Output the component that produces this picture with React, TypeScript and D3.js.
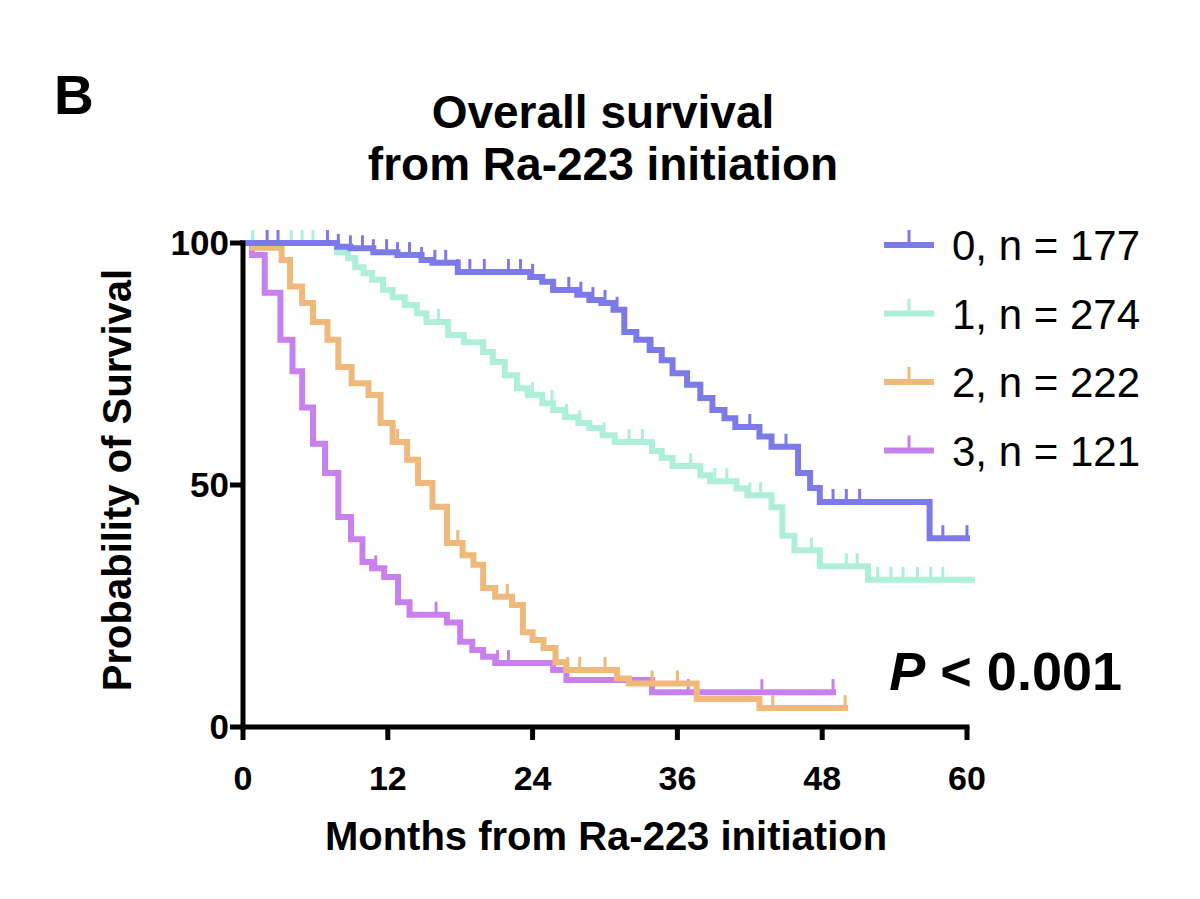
import * as d3 from "d3";

// Kaplan–Meier steps: [month, survival %] after each event
const steps0: [number, number][] = [
  [0, 100], [7.8, 99.2], [8.9, 98.9], [10.8, 98.1], [12.8, 97.5], [14.8, 96.5],
  [15.7, 95.9], [17.8, 94], [23.8, 93], [24.8, 92], [25.7, 90.3], [27.7, 89.3],
  [28.7, 88.2], [29.7, 87.6], [30.7, 86.2], [31.6, 81.6], [32.6, 80], [33.7, 77.9],
  [34.7, 75.8], [35.6, 73.1], [36.8, 70.7], [37.9, 68], [38.9, 65.5], [39.9, 63.8],
  [40.8, 62], [42.8, 60], [43.8, 57.9], [46.0, 52.5], [47.0, 49.4], [47.8, 46.5],
  [56.9, 39],
];
const censor0 = [
  2.0, 2.9, 7.0, 7.9, 8.9, 9.9, 10.8, 11.9, 12.8, 13.8, 14.8, 15.9, 16.8, 17.8,
  18.8, 20.0, 22.0, 23.0, 24.0, 27.0, 28.0, 29.0, 30.0, 31.0, 33.9, 42.0, 45.0,
  48.9, 50.0, 51.1, 58.0, 60.0,
];
const end0 = 60;

const steps1: [number, number][] = [
  [0, 100], [7.8, 98.1], [8.7, 96.9], [9.3, 95], [10.0, 93.8], [10.7, 92.4],
  [11.6, 90.3], [12.4, 88.8], [13.4, 87.2], [14.4, 85.5], [15.2, 83.7], [17.0, 81],
  [18.3, 79.5], [19.9, 77.5], [20.7, 75.4], [21.7, 72.7], [22.7, 70], [23.6, 68.6],
  [24.8, 66.9], [25.7, 65.5], [26.7, 64], [27.8, 62.8], [28.7, 61.8], [29.8, 60.3],
  [30.8, 58.9], [33.9, 57], [34.7, 55.6], [35.6, 53.9], [37.9, 52], [38.7, 50.8],
  [40.9, 49.3], [41.8, 47.9], [43.8, 45.4], [44.7, 39.5], [45.7, 36.5], [47.8, 33.2],
  [51.8, 30.4],
];
const censor1 = [
  0.8, 4.0, 4.9, 5.8, 16.2, 17.1, 24.0, 25.6, 26.8, 27.9, 29.9, 32.0, 33.1, 37.1,
  39.1, 40.1, 42.0, 42.9, 47.1, 50.0, 50.9, 52.6, 53.7, 54.7, 55.9, 57.0, 58.0,
];
const end1 = 60.4;

const steps2: [number, number][] = [
  [0, 100], [0.8, 99], [3.2, 96.5], [3.9, 91], [4.9, 87.6], [5.8, 83.7], [7.0, 80],
  [7.9, 74.4], [9.0, 71], [10.4, 68.6], [11.4, 62.8], [12.4, 58.9], [13.6, 55.2],
  [14.5, 50.4], [15.7, 45.5], [16.9, 38], [18.2, 35.5], [19.1, 33.5], [19.9, 28.7],
  [20.9, 26.9], [22.3, 25.2], [23.2, 19.6], [24.0, 18], [24.9, 16.3], [25.9, 13.4],
  [26.8, 11.8], [31.0, 10], [32.0, 9], [37.6, 5.8], [42.8, 3.9],
];
const censor2 = [12.8, 17.8, 21.9, 26.9, 27.9, 30.0, 33.9, 36.0, 43.9, 49.9];
const end2 = 49.9;

const steps3: [number, number][] = [
  [0, 100], [0.75, 97.5], [1.8, 89.7], [3.1, 80], [4.1, 73.5], [4.9, 66], [5.8, 58.5],
  [6.8, 52.5], [7.9, 43.4], [8.95, 38.8], [9.9, 34.1], [10.7, 32.8], [11.7, 31],
  [12.85, 25.8], [13.8, 23.2], [16.9, 21.6], [18.0, 17.6], [19.0, 15.9], [19.9, 14.5],
  [20.9, 13.2], [25.7, 11.8], [26.8, 9.7], [33.9, 7.2],
];
const censor3 = [11.0, 16.0, 21.1, 22.0, 36.9, 43.0, 48.9];
const end3 = 48.9;

const labels = ["0, n = 177", "1, n = 274", "2, n = 222", "3, n = 121"];
const colors = ["#7c7ae8", "#aeefda", "#f0b97c", "#c880ef"];
const xTicks = [0, 12, 24, 36, 48, 60];
const yTicks = [0, 50, 100];

const groups = [
  { steps: steps0, censor: censor0, end: end0 },
  { steps: steps1, censor: censor1, end: end1 },
  { steps: steps2, censor: censor2, end: end2 },
  { steps: steps3, censor: censor3, end: end3 },
];

const W = 1200;
const H = 899;
const left = 243;
const right = 967;
const top = 243;
const bottom = 727;
const FONT = "'Liberation Sans', Arial, sans-serif";

const x = d3.scaleLinear().domain([0, 60]).range([left, right]);
const y = d3.scaleLinear().domain([0, 100]).range([bottom, top]);

const line = d3
  .line<[number, number]>()
  .x((d) => x(d[0]))
  .y((d) => y(d[1]))
  .curve(d3.curveStepAfter);

const survivalAt = (steps: [number, number][], t: number) => {
  let s = steps[0][1];
  for (const [m, v] of steps) if (m <= t) s = v;
  return s;
};

export default function App() {
  const drawOrder = [3, 2, 1, 0];
  return (
    <svg
      width={W}
      height={H}
      style={{ position: "absolute", left: 0, top: 0, background: "#fff" }}
      fontFamily={FONT}
    >
      <text x={54} y={114} fontSize={55} fontWeight="bold">B</text>
      <text x={603} y={128} fontSize={46} fontWeight="bold" textAnchor="middle">
        Overall survival
      </text>
      <text x={603} y={180} fontSize={46} fontWeight="bold" textAnchor="middle">
        from Ra-223 initiation
      </text>

      {drawOrder.map((gi) => {
        const g = groups[gi];
        const pts: [number, number][] = [...g.steps, [g.end, g.steps[g.steps.length - 1][1]]];
        return (
          <g key={gi} stroke={colors[gi]} fill="none">
            <path d={line(pts) ?? ""} strokeWidth={6} strokeLinejoin="miter" strokeLinecap="square" />
            {g.censor.map((c, i) => {
              const yy = y(survivalAt(g.steps, c));
              return (
                <line key={i} x1={x(c)} x2={x(c)} y1={yy} y2={yy - 13} strokeWidth={3} />
              );
            })}
          </g>
        );
      })}

      {/* axes */}
      <g stroke="#000" strokeWidth={5} fill="none">
        <line x1={left} x2={left} y1={top - 2.5} y2={bottom + 2.5} />
        <line x1={left - 2.5} x2={right + 2.5} y1={bottom} y2={bottom} />
        {xTicks.map((t) => (
          <line key={t} x1={x(t)} x2={x(t)} y1={bottom} y2={bottom + 13} />
        ))}
        {yTicks.map((t) => (
          <line key={t} x1={left - 13} x2={left} y1={y(t)} y2={y(t)} />
        ))}
      </g>
      {xTicks.map((t) => (
        <text key={t} x={x(t)} y={790} fontSize={34} fontWeight="bold" textAnchor="middle">
          {t}
        </text>
      ))}
      {yTicks.map((t) => (
        <text key={t} x={229} y={y(t) + 12} fontSize={35} fontWeight="bold" textAnchor="end">
          {t}
        </text>
      ))}
      <text
        transform={`translate(131,${(top + bottom) / 2 - 5}) rotate(-90)`}
        fontSize={40}
        fontWeight="bold"
        textAnchor="middle"
      >
        Probability of Survival
      </text>
      <text x={606} y={850} fontSize={40} fontWeight="bold" textAnchor="middle">
        Months from Ra-223 initiation
      </text>

      {/* legend */}
      {labels.map((lab, i) => {
        const ly = 245 + i * 68.5;
        return (
          <g key={lab}>
            <line x1={884} x2={934} y1={ly} y2={ly} stroke={colors[i]} strokeWidth={6} />
            <line x1={909} x2={909} y1={ly} y2={ly - 15} stroke={colors[i]} strokeWidth={3} />
            <text x={952} y={ly + 15} fontSize={42}>{lab}</text>
          </g>
        );
      })}

      <text x={1122} y={690} fontSize={54} fontWeight="bold" textAnchor="end">
        <tspan fontStyle="italic">P</tspan> &lt; 0.001
      </text>
    </svg>
  );
}
